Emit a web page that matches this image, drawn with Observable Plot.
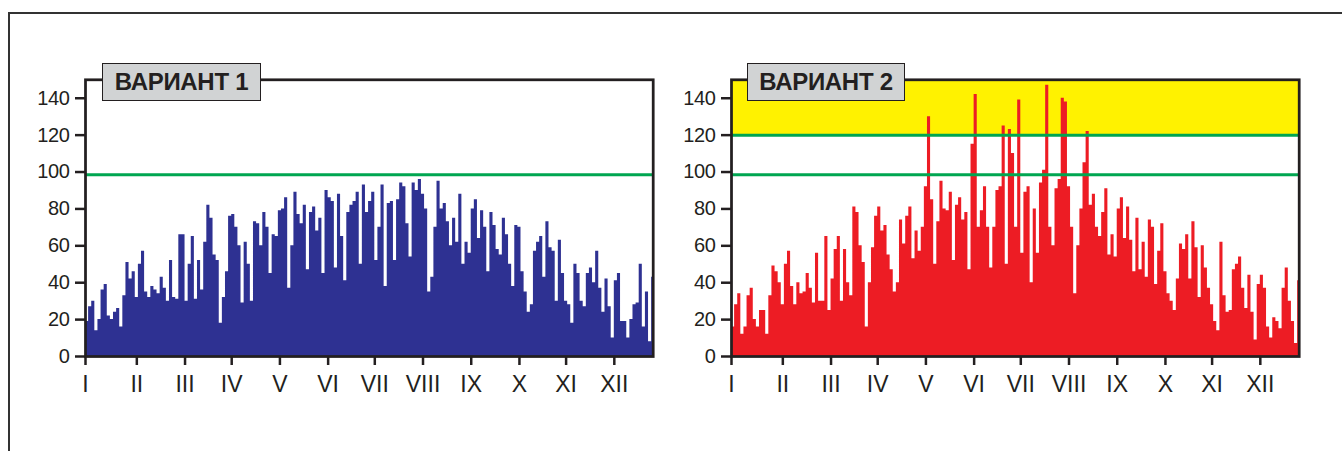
<!DOCTYPE html>
<html>
<head>
<meta charset="utf-8">
<script src="https://cdn.jsdelivr.net/npm/d3@7"></script>
<script src="https://cdn.jsdelivr.net/npm/@observablehq/plot@0.6"></script>
<style>
html,body{margin:0;padding:0;background:#fff;}
#page{position:relative;width:1342px;height:451px;overflow:hidden;background:#fff;}
#outer{position:absolute;left:8px;top:12px;width:1400px;height:500px;border-top:2.5px solid #333;border-left:2.5px solid #333;}
.panel{position:absolute;top:0;}
.label{position:absolute;top:63px;height:38px;box-sizing:border-box;background:#d1d3d4;border:1.5px solid #231f20;font:bold 24px "Liberation Sans",Arial,sans-serif;color:#231f20;text-align:center;line-height:35px;letter-spacing:-0.3px;white-space:nowrap;}
svg g[aria-label^="x-axis"] text{font-family:"Liberation Sans Narrow","Arial Narrow",sans-serif;font-size:23px;fill:#231f20;}
svg g[aria-label^="y-axis"] text{font-family:"Liberation Sans",Arial,sans-serif;font-size:20px;letter-spacing:-0.4px;fill:#231f20;}
svg g[aria-label^="x-axis"] line, svg g[aria-label^="y-axis"] line,
svg g[aria-label^="x-axis"] path, svg g[aria-label^="y-axis"] path{stroke:#231f20;stroke-width:2.5px;}
</style>
</head>
<body>
<div id="page">
  <div id="outer"></div>
  <div id="p1" class="panel" style="left:0px"></div>
  <div id="p2" class="panel" style="left:645.7px"></div>
  <div class="label" style="left:102px;width:159px">ВАРИАНТ 1</div>
  <div class="label" style="left:747px;width:158px">ВАРИАНТ 2</div>
</div>
<script>
// Month tick positions (day of year) and labels
const monthTicks = [0, 33, 64, 94, 125, 156, 186, 217, 248, 279, 309, 340];
const monthLabels = ["I","II","III","IV","V","VI","VII","VIII","IX","X","XI","XII"];
const yTicks = [0, 20, 40, 60, 80, 100, 120, 140];
const stepDays = 2; // each value covers two days

// Variant 1 (blue), one value per 2 days
const variant1 = [19,27,30,14,20,36,39,22,20,24,
  26,16,33,51,42,46,32,50,57,35,
  32,38,36,34,43,37,30,52,32,31,
  66,66,30,50,65,31,52,36,62,82,
  75,55,52,18,32,46,76,77,70,60,
  29,62,50,30,73,72,60,78,70,45,
  66,65,79,80,86,37,60,89,77,72,
  82,47,78,81,68,75,45,90,86,84,
  48,88,65,41,78,82,84,89,50,93,
  78,84,89,52,70,93,38,83,84,52,
  85,94,92,72,54,94,90,96,88,80,
  35,43,70,95,80,83,73,60,75,62,
  88,50,62,56,80,85,64,79,70,46,
  78,71,58,55,75,66,50,38,71,70,
  46,35,24,28,57,62,65,43,73,59,
  57,30,63,45,30,28,18,50,45,30,
  27,45,48,40,57,37,24,42,27,10,
  41,45,19,19,10,20,28,29,50,16,
  35,8,43];

// Variant 2 (red)
const variant2 = [16,28,34,12,16,33,37,20,16,25,
  25,12,33,49,46,40,28,50,57,38,
  28,40,34,35,45,37,29,56,30,30,
  65,25,42,58,65,30,58,40,33,81,
  78,60,51,16,40,59,76,81,68,71,
  55,47,35,40,74,61,76,81,53,68,
  57,70,92,130,85,50,73,95,80,79,
  89,52,82,86,74,78,47,115,142,70,
  79,92,70,48,70,90,92,125,50,123,
  110,70,139,56,89,92,40,80,56,94,
  101,147,70,60,91,96,140,138,92,70,
  34,60,80,105,122,82,88,70,65,78,
  91,55,66,54,80,86,64,81,63,46,
  75,47,62,43,74,70,39,57,72,46,
  34,30,25,42,61,58,66,42,73,59,
  32,60,48,37,28,19,14,62,33,24,
  25,47,50,54,37,26,44,24,9,39,
  44,37,16,10,21,19,15,37,48,30,
  19,7,41];

const thresholds1 = [98.5];
const thresholds2 = [98.5, 120];
const band2 = [120, 150];

const BLUE = "#2e3192", RED = "#ed1c24", YELLOW = "#fff200", GREEN = "#00a651", INK = "#231f20";

function panel(values, color, thresholds, band) {
  const data = values.map((v, i) => ({day: i * stepDays, v}));
  data.push({day: 365, v: values[values.length - 1]});
  const marks = [];
  if (band) {
    marks.push(Plot.rect([band], {x1: () => 0, x2: () => 365, y1: d => d[0], y2: d => d[1], fill: YELLOW}));
  }
  marks.push(Plot.areaY(data, {x: "day", y: "v", curve: "step-after", fill: color}));
  marks.push(Plot.ruleY(thresholds, {stroke: GREEN, strokeWidth: 3}));
  marks.push(Plot.frame({stroke: INK, strokeWidth: 2.75}));
  return Plot.plot({
    width: 660, height: 451,
    marginLeft: 85, marginRight: 7.3, marginTop: 79.3, marginBottom: 95,
    style: {background: "transparent", color: INK, overflow: "visible"},
    x: {domain: [0, 365], range: [85, 652.7], ticks: monthTicks,
        tickFormat: d => monthLabels[monthTicks.indexOf(d)], tickSize: 9, tickPadding: 10, label: null},
    y: {domain: [0, 150], range: [356, 79.3], ticks: yTicks, tickSize: 10, tickPadding: 6, label: null},
    marks
  });
}

document.getElementById("p1").appendChild(panel(variant1, BLUE, thresholds1, null));
document.getElementById("p2").appendChild(panel(variant2, RED, thresholds2, band2));
</script>
</body>
</html>
